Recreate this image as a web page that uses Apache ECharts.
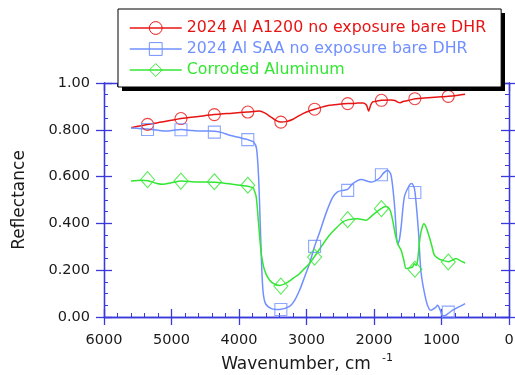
<!DOCTYPE html>
<html><head><meta charset="utf-8">
<script src="https://cdn.jsdelivr.net/npm/echarts@6/dist/echarts.min.js"></script>
<style>html,body{margin:0;padding:0;background:#fff}#c{width:515px;height:375px}</style>
</head><body><div id="c"></div>
<script>
// ---------- data ----------
const seriesNames = ["2024 Al A1200 no exposure bare DHR", "2024 Al SAA no exposure bare DHR", "Corroded Aluminum"];
const seriesColors = ["#e81414", "#7090ff", "#33e633"];

const redWn  = [5600,5360,5100,4860,4600,4370,4100,3870,3700,3620,3520,3440,3380,3300,3200,3100,3000,2880,2760,2660,2520,2390,2250,2160,2110,2080,2050,2020,1950,1890,1750,1690,1640,1610,1570,1500,1390,1200,1000,900,750,650];
const redVal = [0.809,0.823,0.835,0.848,0.857,0.865,0.871,0.876,0.880,0.872,0.853,0.838,0.833,0.835,0.845,0.862,0.876,0.888,0.898,0.905,0.909,0.912,0.914,0.915,0.905,0.880,0.905,0.919,0.923,0.926,0.927,0.925,0.917,0.916,0.921,0.925,0.933,0.937,0.941,0.943,0.948,0.952];

const blueWn  = [5600,5450,5350,5200,5077,4950,4855,4700,4583,4450,4361,4250,4140,3990,3870,3784,3740,3710,3688,3666,3644,3607,3518,3400,3252,3178,3103,3030,2956,2882,2808,2709,2615,2541,2467,2393,2315,2191,2043,1920,1860,1797,1747,1698,1649,1624,1598,1550,1476,1440,1402,1377,1340,1303,1229,1180,1155,1090,1057,1020,990,960,900,835,750,650];
const blueVal = [0.808,0.805,0.803,0.798,0.795,0.799,0.801,0.797,0.795,0.795,0.794,0.788,0.777,0.767,0.758,0.748,0.720,0.600,0.420,0.230,0.110,0.057,0.036,0.032,0.045,0.070,0.114,0.170,0.228,0.300,0.360,0.445,0.510,0.535,0.541,0.545,0.570,0.588,0.577,0.593,0.615,0.627,0.606,0.485,0.310,0.330,0.385,0.513,0.563,0.570,0.550,0.490,0.360,0.190,0.071,0.032,0.029,0.040,0.050,0.030,0.008,0.005,0.015,0.029,0.042,0.057];

const greenWn  = [5600,5450,5350,5230,5127,5000,4855,4730,4633,4362,4200,4091,3950,3869,3800,3784,3745,3706,3670,3621,3547,3470,3400,3300,3203,3103,3055,2966,2882,2760,2660,2560,2463,2389,2241,2117,2060,1994,1900,1830,1797,1760,1723,1690,1649,1598,1560,1524,1470,1427,1402,1377,1355,1317,1285,1260,1230,1180,1140,1106,1040,983,900,840,785,720,650];
const greenVal = [0.581,0.584,0.582,0.572,0.567,0.574,0.581,0.579,0.577,0.576,0.571,0.567,0.562,0.559,0.553,0.549,0.513,0.385,0.271,0.200,0.157,0.140,0.135,0.145,0.164,0.185,0.200,0.225,0.258,0.310,0.349,0.380,0.406,0.415,0.420,0.413,0.425,0.442,0.462,0.472,0.470,0.455,0.413,0.360,0.314,0.285,0.245,0.207,0.210,0.214,0.228,0.220,0.240,0.342,0.385,0.399,0.385,0.342,0.300,0.264,0.248,0.242,0.236,0.243,0.250,0.240,0.231];

const markerWn     = [5355,4860,4365,3870,3380,2880,2390,1890,1395,900];
const redMarkers   = [0.823,0.848,0.865,0.876,0.833,0.888,0.912,0.926,0.933,0.943];
const blueMarkers  = [0.801,0.800,0.790,0.758,0.032,0.302,0.541,0.608,0.532,0.021];
const greenMarkers = [0.587,0.581,0.578,0.563,0.132,0.256,0.416,0.463,0.204,0.235];

const xTickValues = [0,1000,2000,3000,4000,5000,6000];
const xTickLabels = ["0","1000","2000","3000","4000","5000","6000"];
const yTickValues = [0,0.2,0.4,0.6,0.8,1.0];
const yTickLabels = ["0.00","0.200","0.400","0.600","0.800","1.00"];

const xTitle = "Wavenumber, cm";
const xTitleSup = "-1";
const yTitle = "Reflectance";

// ---------- build ----------
function zip(a, b) { return a.map((v, i) => [v, b[i]]); }
const AX = '#3a3adc';
const FONT = 'DejaVu Sans';

function xAx(pos, inside, withLabels) {
  return {
    type: 'value', position: pos, min: 0, max: 6000, interval: 1000, inverse: true,
    axisLine: { show: true, onZero: false, lineStyle: { color: AX, width: 1.3 } },
    axisTick: { show: true, inside: inside, length: 8, lineStyle: { color: AX, width: 1.3 } },
    minorTick: { show: inside, splitNumber: 5, length: 4, lineStyle: { color: AX, width: 1 } },
    splitLine: { show: false },
    axisLabel: withLabels ? {
      show: true, margin: 16, color: '#1a1a1a', fontFamily: FONT, fontSize: 14.5,
      formatter: v => { const i = xTickValues.indexOf(v); return i >= 0 ? xTickLabels[i] : ''; }
    } : { show: false },
    name: withLabels ? xTitle : '',
    nameLocation: 'middle', nameGap: 39,
    nameTextStyle: { fontFamily: FONT, fontSize: 17, color: '#1a1a1a', padding: [0, 21, 0, 0] }
  };
}
function yAx(pos, inside, withLabels) {
  return {
    type: 'value', position: pos, min: 0, max: 1, interval: 0.2,
    axisLine: { show: true, onZero: false, lineStyle: { color: AX, width: 1.3 } },
    axisTick: { show: true, inside: inside, length: 8, lineStyle: { color: AX, width: 1.3 } },
    minorTick: { show: inside, splitNumber: 4, length: 4, lineStyle: { color: AX, width: 1 } },
    splitLine: { show: false },
    axisLabel: withLabels ? {
      show: true, margin: 14, color: '#1a1a1a', fontFamily: FONT, fontSize: 14.5,
      formatter: v => { const i = yTickValues.findIndex(t => Math.abs(t - v) < 1e-6); return i >= 0 ? yTickLabels[i] : ''; }
    } : { show: false },
    name: withLabels ? yTitle : '',
    nameLocation: 'middle', nameGap: 76,
    nameTextStyle: { fontFamily: FONT, fontSize: 17, color: '#1a1a1a' }
  };
}

const curveData = [zip(redWn, redVal), zip(blueWn, blueVal), zip(greenWn, greenVal)];
const markerData = [zip(markerWn, redMarkers), zip(markerWn, blueMarkers), zip(markerWn, greenMarkers)];
const symbols = ['circle', 'rect', 'diamond'];
const symSizes = [12, 12, [14, 16]];

const series = [];
for (let k = 0; k < 3; k++) {
  series.push({
    type: 'line', name: seriesNames[k], data: curveData[k],
    xAxisIndex: 0, yAxisIndex: 0,
    symbol: symbols[k], showSymbol: false, smooth: 0.25,
    lineStyle: { color: seriesColors[k], width: 1.5 },
    itemStyle: { color: 'rgba(0,0,0,0)', borderColor: seriesColors[k], borderWidth: 1 },
    silent: true, z: 3
  });
}
for (let k = 0; k < 3; k++) {
  series.push({
    type: 'scatter', name: 'markers' + k, data: markerData[k],
    xAxisIndex: 0, yAxisIndex: 0,
    symbol: symbols[k], symbolSize: symSizes[k],
    itemStyle: { color: 'rgba(0,0,0,0)', borderColor: seriesColors[k], borderWidth: 1.1 },
    silent: true, z: 4
  });
}

const option = {
  animation: false,
  backgroundColor: '#fff',
  grid: { left: 104, right: 6, top: 83, bottom: 58, containLabel: false, outerBoundsMode: 'none' },
  xAxis: [xAx('bottom', true, true), xAx('bottom', false, false), xAx('top', true, false)],
  yAxis: [yAx('left', true, true), yAx('left', false, false), yAx('right', true, false), yAx('right', false, false)],
  legend: {
    orient: 'vertical', left: 118, top: 9,
    padding: [11, 15, 9, 11], itemWidth: 52, itemHeight: 16, itemGap: 5,
    backgroundColor: '#fff', borderColor: '#000', borderWidth: 1, borderRadius: 0,
    z: 10, selectedMode: false,
    textStyle: { fontFamily: FONT, fontSize: 15.8 },
    data: seriesNames.map((n, k) => ({
      name: n,
      itemStyle: { color: 'rgba(0,0,0,0)', borderColor: seriesColors[k], borderWidth: 1 },
      lineStyle: { color: seriesColors[k], width: 1.5 },
      textStyle: { color: seriesColors[k] }
    }))
  },
  graphic: [
    { type: 'rect', z: 9, shape: { x: 122, y: 13, width: 383, height: 78 }, style: { fill: '#000' } },
    { type: 'text', left: 382, top: 353, z: 10,
      style: { text: xTitleSup, fontFamily: FONT, fontSize: 11, fill: '#1a1a1a' } }
  ],
  series: series
};
const chart = echarts.init(document.getElementById('c'), null, { renderer: 'canvas' });
chart.setOption(option);
</script></body></html>
